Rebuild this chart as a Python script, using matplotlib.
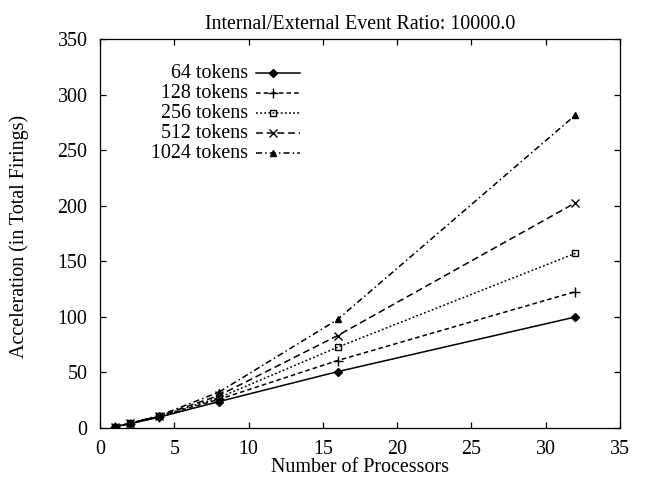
import matplotlib
matplotlib.use("Agg")
import matplotlib.pyplot as plt
from matplotlib.lines import Line2D

plt.rcParams['font.family'] = ['Liberation Serif', 'DejaVu Serif']

processors = [1, 2, 4, 8, 16, 32]
labels = ["64 tokens", "128 tokens", "256 tokens", "512 tokens", "1024 tokens"]
acc_64 = [1, 3.5, 9.5, 23.5, 50.5, 99.7]
acc_128 = [1, 3.7, 10, 25.5, 60.5, 122.5]
acc_256 = [1, 3.8, 10.3, 27, 72.5, 157]
acc_512 = [1, 3.9, 10.6, 29, 83, 202.5]
acc_1024 = [1, 4, 11, 32, 97.5, 281.5]
series = [acc_64, acc_128, acc_256, acc_512, acc_1024]

styles = [
    dict(linestyle='-', marker='D', markersize=4, mfc='black'),
    dict(linestyle=(0, (3, 2)), marker='+', markersize=7, mfc='black'),
    dict(linestyle=(0, (1.2, 1.5)), marker='s', markersize=5, mfc='none'),
    dict(linestyle=(0, (4.5, 2.5)), marker='x', markersize=6, mfc='black'),
    dict(linestyle=(0, (4, 2, 1, 2)), marker='^', markersize=5, mfc='black'),
]

FS = 14.4

fig = plt.figure(figsize=(6.47, 4.83), dpi=100)
ax = fig.add_axes([100/647, 55.3/483, 520/647, 388.7/483])

for vals, st in zip(series, styles):
    ax.plot(processors, vals, color='black', linewidth=1.1, mec='black', mew=1.0, **st)

ax.set_xlim(0, 35)
ax.set_ylim(0, 350)
ax.set_xticks(range(0, 36, 5))
ax.set_yticks(range(0, 351, 50))
ax.tick_params(direction='in', top=True, right=True, length=4.5, labelsize=FS, width=0.9, pad=9)
for sp in ax.spines.values():
    sp.set_linewidth(0.9)

ax.set_xlabel("Number of Processors", fontsize=FS)
ax.set_ylabel("Acceleration (in Total Firings)", fontsize=FS)
ax.xaxis.set_label_coords(0.5, -0.0767)
ax.yaxis.set_label_coords(-0.1356, 0.493)
ax.set_title("Internal/External Event Ratio: 10000.0", fontsize=FS, pad=7)

# gnuplot-style key
y0 = 0.9118
dy = 0.0515
for i, (lab, st) in enumerate(zip(labels, styles)):
    y = y0 - i * dy
    ax.text(0.2846, y, lab, transform=ax.transAxes, ha='right', va='center', fontsize=FS)
    ax.add_line(Line2D([0.300, 0.3846], [y, y], transform=ax.transAxes, color='black',
                       linewidth=1.1, linestyle=st['linestyle']))
    ax.add_line(Line2D([0.3327], [y], transform=ax.transAxes, color='black',
                       marker=st['marker'], markersize=st['markersize'], mfc=st['mfc'],
                       mec='black', mew=1.0, linestyle='none'))

fig.savefig("out.png", dpi=100)
